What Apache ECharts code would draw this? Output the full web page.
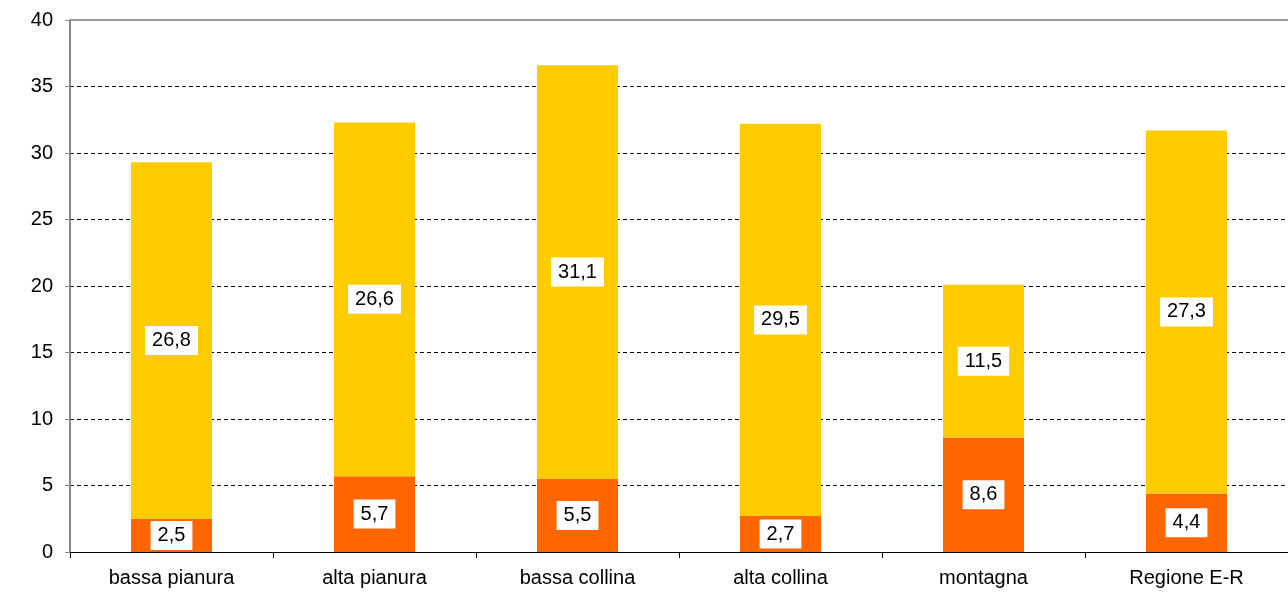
<!DOCTYPE html>
<html>
<head>
<meta charset="utf-8">
<script src="https://cdn.jsdelivr.net/npm/echarts@6/dist/echarts.min.js"></script>
<style>
  html, body { margin: 0; padding: 0; background: #fff; }
  #chart { width: 1288px; height: 595px; }
</style>
</head>
<body>
<div id="chart"></div>
<script>
const categories = ['bassa pianura', 'alta pianura', 'bassa collina', 'alta collina', 'montagna', 'Regione E-R']
const lowerValues = [2.5, 5.7, 5.5, 2.7, 8.6, 4.4]
const upperValues = [26.8, 26.6, 31.1, 29.5, 11.5, 27.3]
const yTicks = [0, 5, 10, 15, 20, 25, 30, 35, 40]

const fmt = (p) => String(p.value).replace('.', ',')

const labelStyle = {
  show: true,
  position: 'inside',
  formatter: fmt,
  color: '#000',
  fontFamily: 'Liberation Sans, Arial, sans-serif',
  fontSize: 20,
  backgroundColor: '#fff',
  padding: [5, 7, 4, 7]
}

const chart = echarts.init(document.getElementById('chart'))
chart.setOption({
  animation: false,
  grid: { left: 70, right: 0, top: 20, bottom: 43 },
  xAxis: {
    type: 'category',
    data: categories,
    axisLine: { lineStyle: { color: '#000', width: 1 } },
    axisTick: { show: true, alignWithLabel: false, length: 6, lineStyle: { color: '#000' } },
    axisLabel: { color: '#000', fontFamily: 'Liberation Sans, Arial, sans-serif', fontSize: 20, margin: 16 }
  },
  yAxis: {
    type: 'value',
    min: yTicks[0],
    max: yTicks[yTicks.length - 1],
    interval: 5,
    axisLine: { show: true, lineStyle: { color: '#888', width: 2 } },
    axisTick: { show: true, length: 5, lineStyle: { color: '#888' } },
    axisLabel: { color: '#000', fontFamily: 'Liberation Sans, Arial, sans-serif', fontSize: 20, margin: 17 },
    splitLine: { show: true, lineStyle: { color: '#000', type: [4, 3], width: 1 } }
  },
  series: [
    {
      name: 'lower',
      type: 'bar',
      stack: 'tot',
      barWidth: 81,
      data: lowerValues,
      itemStyle: { color: '#ff6600' },
      label: labelStyle
    },
    {
      name: 'upper',
      type: 'bar',
      stack: 'tot',
      barWidth: 81,
      data: upperValues,
      itemStyle: { color: '#ffcc00' },
      label: labelStyle,
      markLine: {
        silent: true,
        symbol: 'none',
        label: { show: false },
        lineStyle: { color: '#999', type: 'solid', width: 2 },
        data: [{ yAxis: 40 }]
      }
    }
  ]
})
</script>
</body>
</html>
